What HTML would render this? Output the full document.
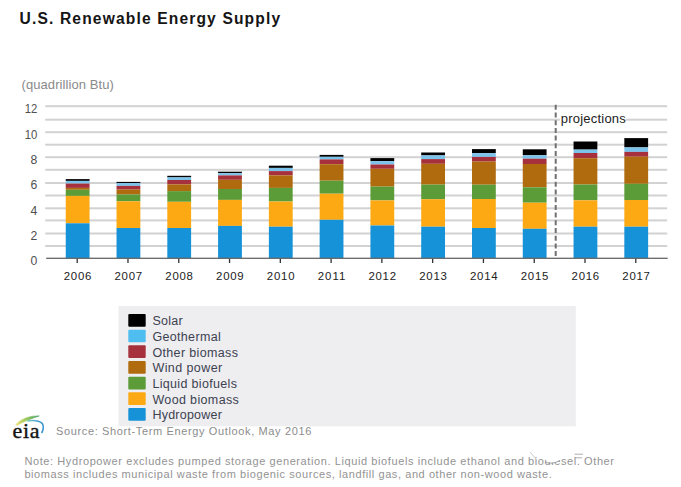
<!DOCTYPE html><html><head><meta charset="utf-8"><style>html,body{margin:0;padding:0;background:#fff;width:681px;height:487px;overflow:hidden}svg{display:block}text{font-family:"Liberation Sans",sans-serif}</style></head><body>
<svg width="681" height="487" viewBox="0 0 681 487">
<rect width="681" height="487" fill="#fff"/>
<text x="19.6" y="24" font-size="15.6" font-weight="bold" fill="#151515" textLength="260.5" lengthAdjust="spacing">U.S. Renewable Energy Supply</text>
<text x="21.5" y="88.8" font-size="13" fill="#8a8a8a" textLength="92.4" lengthAdjust="spacing">(quadrillion Btu)</text>
<rect x="45.2" y="245.00" width="622" height="2" fill="#d2d2d2"/>
<rect x="45.2" y="232.50" width="622" height="2" fill="#d2d2d2"/>
<rect x="45.2" y="219.40" width="622" height="2" fill="#d2d2d2"/>
<rect x="45.2" y="207.30" width="622" height="2" fill="#d2d2d2"/>
<rect x="45.2" y="194.50" width="622" height="2" fill="#d2d2d2"/>
<rect x="45.2" y="182.00" width="622" height="2" fill="#d2d2d2"/>
<rect x="45.2" y="168.80" width="622" height="2" fill="#d2d2d2"/>
<rect x="45.2" y="156.20" width="622" height="2" fill="#d2d2d2"/>
<rect x="45.2" y="143.70" width="622" height="2" fill="#d2d2d2"/>
<rect x="45.2" y="131.20" width="622" height="2" fill="#d2d2d2"/>
<rect x="45.2" y="118.70" width="622" height="2" fill="#d2d2d2"/>
<rect x="45.2" y="105.20" width="622" height="2" fill="#d2d2d2"/>
<text x="37.3" y="264.60" font-size="12.2" fill="#505050" text-anchor="end">0</text>
<text x="37.3" y="239.80" font-size="12.2" fill="#505050" text-anchor="end">2</text>
<text x="37.3" y="214.60" font-size="12.2" fill="#505050" text-anchor="end">4</text>
<text x="37.3" y="189.30" font-size="12.2" fill="#505050" text-anchor="end">6</text>
<text x="37.3" y="163.50" font-size="12.2" fill="#505050" text-anchor="end">8</text>
<text x="37.3" y="138.50" font-size="12.2" fill="#505050" text-anchor="end" textLength="12.6" lengthAdjust="spacingAndGlyphs">10</text>
<text x="37.3" y="112.50" font-size="12.2" fill="#505050" text-anchor="end" textLength="12.6" lengthAdjust="spacingAndGlyphs">12</text>
<rect x="65.75" y="179.10" width="23.8" height="1.80" fill="#000000"/>
<rect x="65.75" y="180.90" width="23.8" height="2.70" fill="#7cc3ec"/>
<rect x="65.75" y="183.60" width="23.8" height="4.30" fill="#a6313d"/>
<rect x="65.75" y="187.90" width="23.8" height="1.90" fill="#b06b0e"/>
<rect x="65.75" y="189.80" width="23.8" height="6.10" fill="#5b9c38"/>
<rect x="65.75" y="195.90" width="23.8" height="27.40" fill="#fca914"/>
<rect x="65.75" y="223.30" width="23.8" height="35.00" fill="#1692d8"/>
<rect x="76.55" y="258.3" width="1.3" height="4.7" fill="#333"/>
<text x="63.75" y="280.2" font-size="11.4" fill="#222" textLength="27.6" lengthAdjust="spacing">2006</text>
<rect x="116.53" y="181.90" width="23.8" height="1.20" fill="#000000"/>
<rect x="116.53" y="183.10" width="23.8" height="2.80" fill="#7cc3ec"/>
<rect x="116.53" y="185.90" width="23.8" height="3.70" fill="#a6313d"/>
<rect x="116.53" y="189.60" width="23.8" height="4.90" fill="#b06b0e"/>
<rect x="116.53" y="194.50" width="23.8" height="6.80" fill="#5b9c38"/>
<rect x="116.53" y="201.30" width="23.8" height="26.70" fill="#fca914"/>
<rect x="116.53" y="228.00" width="23.8" height="30.30" fill="#1692d8"/>
<rect x="127.33" y="258.3" width="1.3" height="4.7" fill="#333"/>
<text x="114.53" y="280.2" font-size="11.4" fill="#222" textLength="27.6" lengthAdjust="spacing">2007</text>
<rect x="167.31" y="175.80" width="23.8" height="1.60" fill="#000000"/>
<rect x="167.31" y="177.40" width="23.8" height="2.60" fill="#7cc3ec"/>
<rect x="167.31" y="180.00" width="23.8" height="4.40" fill="#a6313d"/>
<rect x="167.31" y="184.40" width="23.8" height="6.70" fill="#b06b0e"/>
<rect x="167.31" y="191.10" width="23.8" height="10.70" fill="#5b9c38"/>
<rect x="167.31" y="201.80" width="23.8" height="26.20" fill="#fca914"/>
<rect x="167.31" y="228.00" width="23.8" height="30.30" fill="#1692d8"/>
<rect x="178.11" y="258.3" width="1.3" height="4.7" fill="#333"/>
<text x="165.31" y="280.2" font-size="11.4" fill="#222" textLength="27.6" lengthAdjust="spacing">2008</text>
<rect x="218.09" y="171.70" width="23.8" height="1.50" fill="#000000"/>
<rect x="218.09" y="173.20" width="23.8" height="2.20" fill="#7cc3ec"/>
<rect x="218.09" y="175.40" width="23.8" height="4.40" fill="#a6313d"/>
<rect x="218.09" y="179.80" width="23.8" height="9.20" fill="#b06b0e"/>
<rect x="218.09" y="189.00" width="23.8" height="10.90" fill="#5b9c38"/>
<rect x="218.09" y="199.90" width="23.8" height="26.00" fill="#fca914"/>
<rect x="218.09" y="225.90" width="23.8" height="32.40" fill="#1692d8"/>
<rect x="228.89" y="258.3" width="1.3" height="4.7" fill="#333"/>
<text x="216.09" y="280.2" font-size="11.4" fill="#222" textLength="27.6" lengthAdjust="spacing">2009</text>
<rect x="268.87" y="165.70" width="23.8" height="2.20" fill="#000000"/>
<rect x="268.87" y="167.90" width="23.8" height="3.20" fill="#7cc3ec"/>
<rect x="268.87" y="171.10" width="23.8" height="4.30" fill="#a6313d"/>
<rect x="268.87" y="175.40" width="23.8" height="12.50" fill="#b06b0e"/>
<rect x="268.87" y="187.90" width="23.8" height="13.60" fill="#5b9c38"/>
<rect x="268.87" y="201.50" width="23.8" height="25.20" fill="#fca914"/>
<rect x="268.87" y="226.70" width="23.8" height="31.60" fill="#1692d8"/>
<rect x="279.67" y="258.3" width="1.3" height="4.7" fill="#333"/>
<text x="266.87" y="280.2" font-size="11.4" fill="#222" textLength="27.6" lengthAdjust="spacing">2010</text>
<rect x="319.65" y="154.90" width="23.8" height="1.90" fill="#000000"/>
<rect x="319.65" y="156.80" width="23.8" height="2.60" fill="#7cc3ec"/>
<rect x="319.65" y="159.40" width="23.8" height="4.80" fill="#a6313d"/>
<rect x="319.65" y="164.20" width="23.8" height="16.50" fill="#b06b0e"/>
<rect x="319.65" y="180.70" width="23.8" height="13.00" fill="#5b9c38"/>
<rect x="319.65" y="193.70" width="23.8" height="26.10" fill="#fca914"/>
<rect x="319.65" y="219.80" width="23.8" height="38.50" fill="#1692d8"/>
<rect x="330.45" y="258.3" width="1.3" height="4.7" fill="#333"/>
<text x="317.65" y="280.2" font-size="11.4" fill="#222" textLength="27.6" lengthAdjust="spacing">2011</text>
<rect x="370.43" y="158.10" width="23.8" height="3.10" fill="#000000"/>
<rect x="370.43" y="161.20" width="23.8" height="3.30" fill="#7cc3ec"/>
<rect x="370.43" y="164.50" width="23.8" height="4.30" fill="#a6313d"/>
<rect x="370.43" y="168.80" width="23.8" height="17.80" fill="#b06b0e"/>
<rect x="370.43" y="186.60" width="23.8" height="13.80" fill="#5b9c38"/>
<rect x="370.43" y="200.40" width="23.8" height="25.10" fill="#fca914"/>
<rect x="370.43" y="225.50" width="23.8" height="32.80" fill="#1692d8"/>
<rect x="381.23" y="258.3" width="1.3" height="4.7" fill="#333"/>
<text x="368.43" y="280.2" font-size="11.4" fill="#222" textLength="27.6" lengthAdjust="spacing">2012</text>
<rect x="421.21" y="152.50" width="23.8" height="2.90" fill="#000000"/>
<rect x="421.21" y="155.40" width="23.8" height="3.70" fill="#7cc3ec"/>
<rect x="421.21" y="159.10" width="23.8" height="4.70" fill="#a6313d"/>
<rect x="421.21" y="163.80" width="23.8" height="20.80" fill="#b06b0e"/>
<rect x="421.21" y="184.60" width="23.8" height="14.60" fill="#5b9c38"/>
<rect x="421.21" y="199.20" width="23.8" height="27.50" fill="#fca914"/>
<rect x="421.21" y="226.70" width="23.8" height="31.60" fill="#1692d8"/>
<rect x="432.01" y="258.3" width="1.3" height="4.7" fill="#333"/>
<text x="419.21" y="280.2" font-size="11.4" fill="#222" textLength="27.6" lengthAdjust="spacing">2013</text>
<rect x="471.99" y="149.10" width="23.8" height="4.10" fill="#000000"/>
<rect x="471.99" y="153.20" width="23.8" height="3.70" fill="#7cc3ec"/>
<rect x="471.99" y="156.90" width="23.8" height="4.70" fill="#a6313d"/>
<rect x="471.99" y="161.60" width="23.8" height="23.10" fill="#b06b0e"/>
<rect x="471.99" y="184.70" width="23.8" height="14.30" fill="#5b9c38"/>
<rect x="471.99" y="199.00" width="23.8" height="29.00" fill="#fca914"/>
<rect x="471.99" y="228.00" width="23.8" height="30.30" fill="#1692d8"/>
<rect x="482.79" y="258.3" width="1.3" height="4.7" fill="#333"/>
<text x="469.99" y="280.2" font-size="11.4" fill="#222" textLength="27.6" lengthAdjust="spacing">2014</text>
<rect x="522.77" y="149.30" width="23.8" height="6.00" fill="#000000"/>
<rect x="522.77" y="155.30" width="23.8" height="3.40" fill="#7cc3ec"/>
<rect x="522.77" y="158.70" width="23.8" height="5.30" fill="#a6313d"/>
<rect x="522.77" y="164.00" width="23.8" height="23.30" fill="#b06b0e"/>
<rect x="522.77" y="187.30" width="23.8" height="15.40" fill="#5b9c38"/>
<rect x="522.77" y="202.70" width="23.8" height="26.10" fill="#fca914"/>
<rect x="522.77" y="228.80" width="23.8" height="29.50" fill="#1692d8"/>
<rect x="533.57" y="258.3" width="1.3" height="4.7" fill="#333"/>
<text x="520.77" y="280.2" font-size="11.4" fill="#222" textLength="27.6" lengthAdjust="spacing">2015</text>
<rect x="573.55" y="141.50" width="23.8" height="8.10" fill="#000000"/>
<rect x="573.55" y="149.60" width="23.8" height="3.40" fill="#7cc3ec"/>
<rect x="573.55" y="153.00" width="23.8" height="5.20" fill="#a6313d"/>
<rect x="573.55" y="158.20" width="23.8" height="26.30" fill="#b06b0e"/>
<rect x="573.55" y="184.50" width="23.8" height="15.80" fill="#5b9c38"/>
<rect x="573.55" y="200.30" width="23.8" height="26.40" fill="#fca914"/>
<rect x="573.55" y="226.70" width="23.8" height="31.60" fill="#1692d8"/>
<rect x="584.35" y="258.3" width="1.3" height="4.7" fill="#333"/>
<text x="571.55" y="280.2" font-size="11.4" fill="#222" textLength="27.6" lengthAdjust="spacing">2016</text>
<rect x="624.33" y="138.10" width="23.8" height="9.30" fill="#000000"/>
<rect x="624.33" y="147.40" width="23.8" height="4.50" fill="#7cc3ec"/>
<rect x="624.33" y="151.90" width="23.8" height="4.80" fill="#a6313d"/>
<rect x="624.33" y="156.70" width="23.8" height="27.10" fill="#b06b0e"/>
<rect x="624.33" y="183.80" width="23.8" height="16.20" fill="#5b9c38"/>
<rect x="624.33" y="200.00" width="23.8" height="26.70" fill="#fca914"/>
<rect x="624.33" y="226.70" width="23.8" height="31.60" fill="#1692d8"/>
<rect x="635.13" y="258.3" width="1.3" height="4.7" fill="#333"/>
<text x="622.33" y="280.2" font-size="11.4" fill="#222" textLength="27.6" lengthAdjust="spacing">2017</text>
<rect x="46.2" y="257.65000000000003" width="621.5" height="1.3" fill="#666"/>
<line x1="555.7" y1="104.8" x2="555.7" y2="256.5" stroke="#707070" stroke-width="2" stroke-dasharray="5 2.7"/>
<rect x="559.8" y="110" width="66" height="17" fill="#fff"/>
<text x="560.8" y="122.8" font-size="13" fill="#222" textLength="65" lengthAdjust="spacing">projections</text>
<rect x="118.5" y="306" width="457.3" height="120.3" fill="#eeedf0"/>
<rect x="128.3" y="314.00" width="17.4" height="12.7" rx="1" fill="#000000"/>
<text x="152.4" y="325.40" font-size="12.5" fill="#3c4250" textLength="30.3" lengthAdjust="spacing">Solar</text>
<rect x="128.3" y="329.67" width="17.4" height="12.7" rx="1" fill="#4fbdf0"/>
<text x="152.4" y="341.07" font-size="12.5" fill="#3c4250" textLength="68.3" lengthAdjust="spacing">Geothermal</text>
<rect x="128.3" y="345.34" width="17.4" height="12.7" rx="1" fill="#a6313d"/>
<text x="152.4" y="356.74" font-size="12.5" fill="#3c4250" textLength="85.5" lengthAdjust="spacing">Other biomass</text>
<rect x="128.3" y="361.01" width="17.4" height="12.7" rx="1" fill="#b06b0e"/>
<text x="152.4" y="372.41" font-size="12.5" fill="#3c4250" textLength="69.8" lengthAdjust="spacing">Wind power</text>
<rect x="128.3" y="376.68" width="17.4" height="12.7" rx="1" fill="#5b9c38"/>
<text x="152.4" y="388.08" font-size="12.5" fill="#3c4250" textLength="84.5" lengthAdjust="spacing">Liquid biofuels</text>
<rect x="128.3" y="392.35" width="17.4" height="12.7" rx="1" fill="#fca914"/>
<text x="152.4" y="403.75" font-size="12.5" fill="#3c4250" textLength="86.4" lengthAdjust="spacing">Wood biomass</text>
<rect x="128.3" y="408.02" width="17.4" height="12.7" rx="1" fill="#1692d8"/>
<text x="152.4" y="419.42" font-size="12.5" fill="#3c4250" textLength="69.5" lengthAdjust="spacing">Hydropower</text>
<text x="12.6" y="438.3" font-size="22" fill="#141414" stroke="#141414" stroke-width="0.4" textLength="27" lengthAdjust="spacing" style="font-family:'Liberation Serif',serif">eia</text>
<defs><linearGradient id="g1" x1="0" x2="1"><stop offset="0" stop-color="#f2e47c"/><stop offset="0.45" stop-color="#9cc85a"/><stop offset="1" stop-color="#3c9a6a"/></linearGradient><linearGradient id="g2" x1="0" x2="1"><stop offset="0" stop-color="#7ec8c8"/><stop offset="1" stop-color="#2f8fcf"/></linearGradient></defs>
<path d="M15.8 424.4 Q24 415.5 39.2 415.9 Q25 420.5 16.8 425.4 Z" fill="url(#g1)" stroke="url(#g1)" stroke-width="0.6"/>
<path d="M27.2 420.9 Q38 419.6 42.4 423.6 Q44.6 427.5 41.6 433.2" fill="none" stroke="url(#g2)" stroke-width="1.5"/>
<text x="56" y="435" font-size="11" fill="#8c8c8c" textLength="255.3" lengthAdjust="spacing">Source: Short-Term Energy Outlook, May 2016</text>
<text x="24.4" y="464.6" font-size="11" fill="#939393" textLength="589.6" lengthAdjust="spacing">Note: Hydropower excludes pumped storage generation. Liquid biofuels include ethanol and biodiesel. Other</text>
<text x="24.4" y="478.2" font-size="11" fill="#939393" textLength="527.3" lengthAdjust="spacing">biomass includes municipal waste from biogenic sources, landfill gas, and other non-wood waste.</text>
<ellipse cx="553" cy="457" rx="8.3" ry="5.6" fill="#fff"/>
<path d="M545 462 Q552 465 560 460.5" fill="none" stroke="#9a9a9a" stroke-width="0.9"/>
<path d="M530 452 L536 459" fill="none" stroke="#bdbdbd" stroke-width="0.8"/>
<path d="M574.5 454.2 H583 M575 457.8 H582" fill="none" stroke="#9a9a9a" stroke-width="0.8"/>
</svg></body></html>
